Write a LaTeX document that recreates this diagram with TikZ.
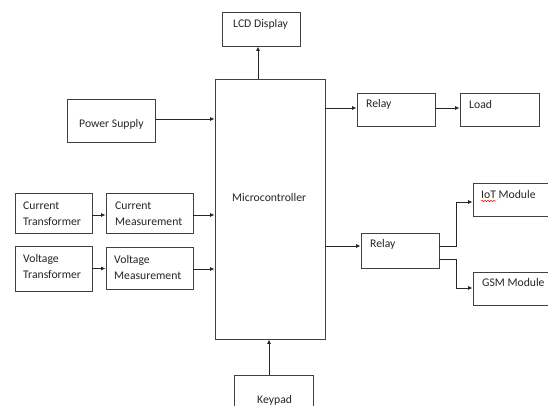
\documentclass[tikz,border=0pt]{standalone}
\usepackage{fontspec}
\setmainfont{Carlito}
\usetikzlibrary{arrows.meta,decorations.pathmorphing}
\begin{document}
\begin{tikzpicture}[x=1pt,y=-1pt,
  box/.style={draw=black!75,line width=0.9pt,inner sep=0pt,minimum width=#1},
  txt/.style={anchor=west,inner sep=0pt,font=\fontsize{11.7}{13}\selectfont,text=black!85},
  arr/.style={draw=black!85,line width=0.8pt,-{Latex[length=4.5pt,width=4pt]}}]
\useasboundingbox (0,0) rectangle (548,405);
\clip (0,0) rectangle (548,405);
\fill[white] (0,0) rectangle (548,405);
% boxes
\node[box=78pt,minimum height=34pt] (lcd) at (261,29) {};
\node[box=110pt,minimum height=260pt] (mc) at (270,209) {};
\node[box=78pt,minimum height=33pt] (r1) at (396,109.5) {};
\node[box=79pt,minimum height=33pt] (load) at (499.5,109.5) {};
\node[box=88pt,minimum height=43pt] (ps) at (111,120.5) {};
\node[box=77pt,minimum height=40pt] (ct) at (53.5,213) {};
\node[box=87pt,minimum height=40pt] (cm) at (149.5,213) {};
\node[box=77pt,minimum height=45pt] (vt) at (53.5,268.5) {};
\node[box=87pt,minimum height=42pt] (vm) at (149.5,268) {};
\node[box=78pt,minimum height=35pt] (r2) at (400,250.5) {};
\node[box=87pt,minimum height=33pt] (iot) at (516.5,199.5) {};
\node[box=87pt,minimum height=33pt] (gsm) at (516.5,288.5) {};
\node[box=79pt,minimum height=45pt] (kp) at (273.5,397.5) {};
% texts
\node[txt] (tlcd) at (233,24.5) {LCD Display};
\node[txt] (tmc) at (232,197.5) {Microcontroller};
\node[txt] (tr1) at (366,104.5) {Relay};
\node[txt] (tload) at (469,104.5) {Load};
\node[txt] (tps) at (79,124.5) {Power Supply};
\node[txt] (tct1) at (23,205.5) {Current};
\node[txt] (tct2) at (23,221.5) {Transformer};
\node[txt] (tcm1) at (115,205.5) {Current};
\node[txt] (tcm2) at (115,221.5) {Measurement};
\node[txt] (tvt1) at (23,259.5) {Voltage};
\node[txt] (tvt2) at (23,274.5) {Transformer};
\node[txt] (tvm1) at (114,260.5) {Voltage};
\node[txt] (tvm2) at (114,275.5) {Measurement};
\node[txt] (tr2) at (370,244.5) {Relay};
\node[txt] (tiot) at (481,194.5) {IoT Module};
\node[txt] (tgsm) at (482,282.5) {GSM Module};
\node[txt] (tkp) at (257,400.5) {Keypad};
\draw[red,line width=0.5pt,decorate,decoration={snake,amplitude=0.8pt,segment length=3pt}] (481,201) -- (496,201);
% connectors
\draw[arr] ([xshift=-3pt]lcd.south |- mc.north) -- ([xshift=-3pt]lcd.south);
\draw[arr] ([yshift=1.5pt]ps.east) -- ([yshift=1.5pt]ps.east -| mc.west);
\draw[arr] ([yshift=-2pt]ct.east) -- ([yshift=-2pt]ct.east -| cm.west);
\draw[arr] ([yshift=-2pt]cm.east) -- ([yshift=-2pt]cm.east -| mc.west);
\draw[arr] (vt.east) -- (vt.east -| vm.west);
\draw[arr] ([yshift=-1pt]vm.east) -- ([yshift=-1pt]vm.east -| mc.west);
\draw[arr] ([yshift=1.5pt]r1.west -| mc.east) -- ([yshift=1.5pt]r1.west);
\draw[arr] ([yshift=1.5pt]r1.east) -- ([yshift=1.5pt]load.west);
\draw[arr] ([yshift=4.5pt]r2.west -| mc.east) -- ([yshift=4.5pt]r2.west);
\draw[arr] ([yshift=4.5pt]r2.east) -- ++(17,0) |- ([yshift=-2.5pt]iot.west);
\draw[arr] ([yshift=-8.5pt]r2.east) -- ++(17,0) |- ([yshift=0.5pt]gsm.west);
\draw[arr] ([xshift=-4.5pt]kp.north) -- ([xshift=-4.5pt]kp.north |- mc.south);
\end{tikzpicture}
\end{document}
